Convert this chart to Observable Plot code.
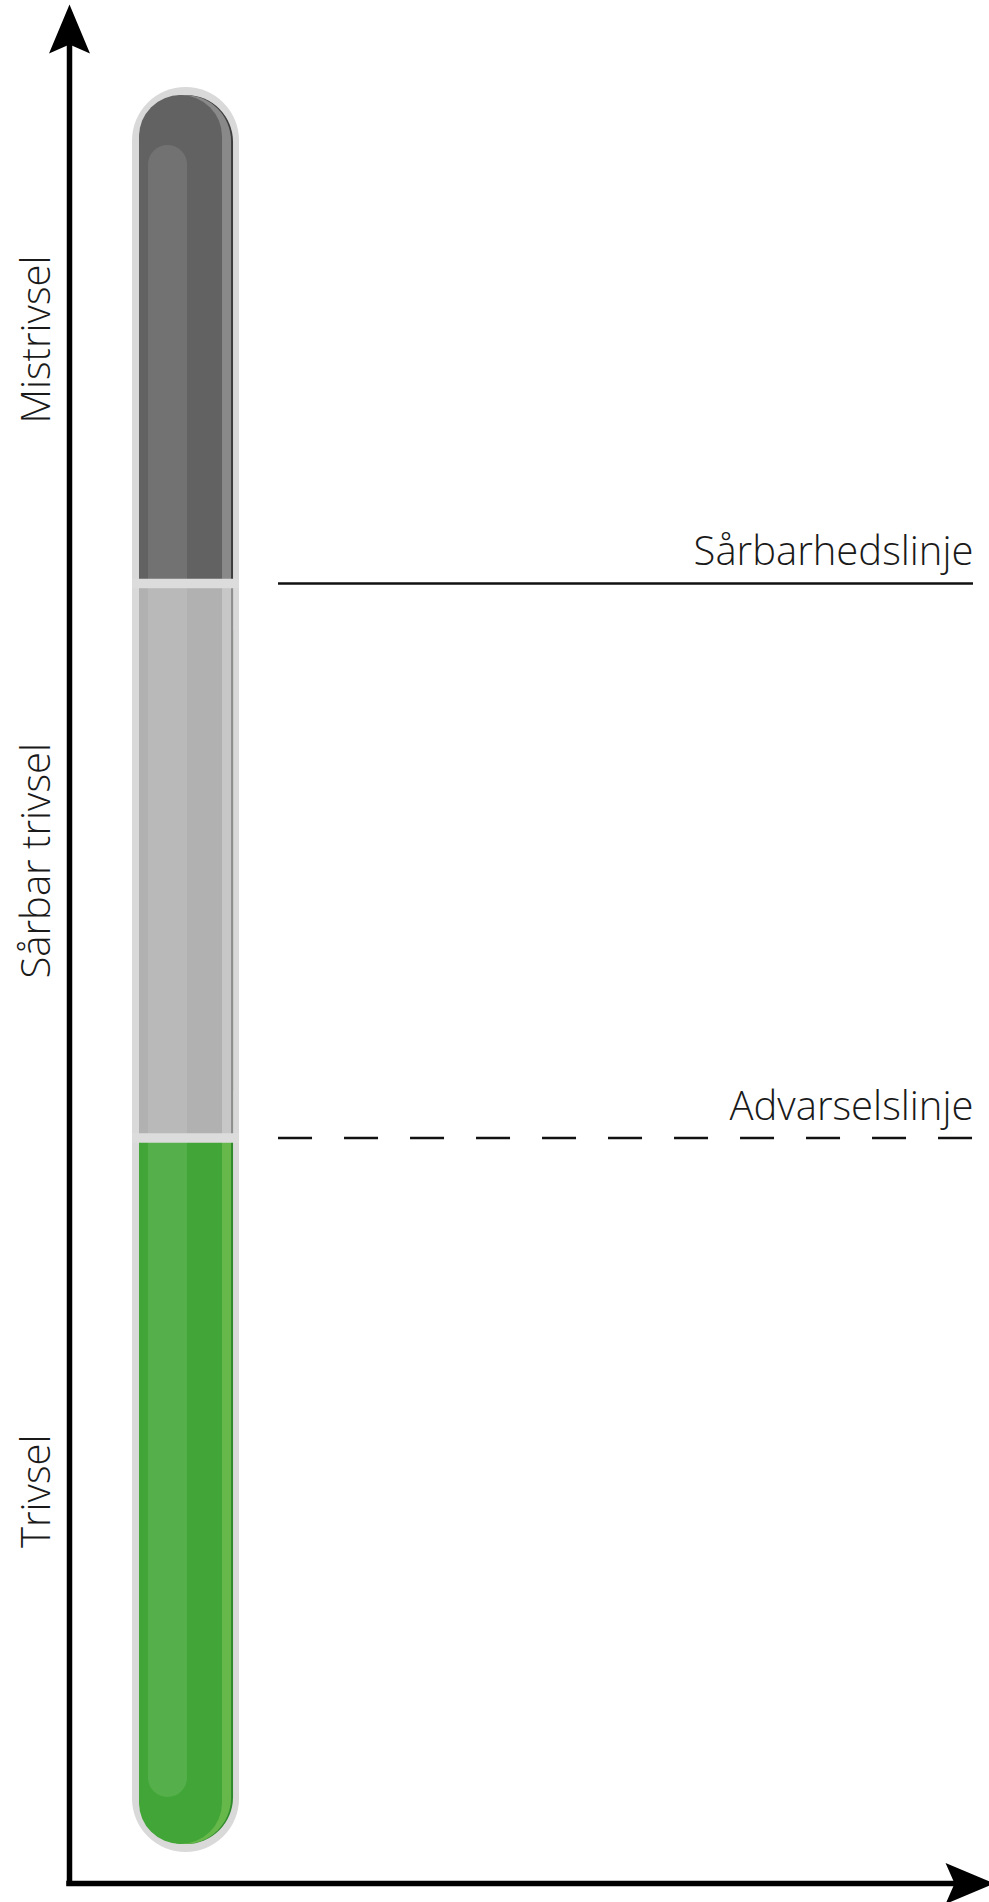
<!DOCTYPE html>
<html>
<head>
<meta charset="utf-8">
<script src="https://cdn.jsdelivr.net/npm/d3@7"></script>
<script src="https://cdn.jsdelivr.net/npm/@observablehq/plot@0.6"></script>
<style>
  html, body { margin: 0; padding: 0; background: #ffffff; }
  #chart svg { display: block; }
</style>
</head>
<body>
<div id="chart"></div>
<script>
// ---- Data ----
const zones = ["Trivsel", "Sårbar trivsel", "Mistrivsel"];   // bottom → top
const zoneFrom = [0, 40.4, 72.1];
const zoneTo = [40.4, 72.1, 100];

const lineNames = ["Advarselslinje", "Sårbarhedslinje"];
const lineValues = [40.4, 72.1];
const lineKinds = ["dashed", "solid"];

// ---- Layout (scale units) ----
const tube = {x1: 7.61, x2: 17.83};
const lineExtent = {x1: 22.72, x2: 98.26};
const labelX = -2.07;
const axisExt = {yFrom: -2.23, yTo: 105.2, xTo: 100.55};

// ---- Styles ----
const palette = {
  top:    {edge: "#3c3c3c", rim: "#898989", main: "#626262", hi: "#727272"},
  mid:    {edge: "#8e8e8e", rim: "#c7c7c7", main: "#b1b1b1", hi: "#b9b9b9"},
  bottom: {edge: "#2e8a2c", rim: "#67b84b", main: "#42a537", hi: "#55b04b"}
};
const font = {fontFamily: "Open Sans", fontWeight: 300, fill: "#1a1a1a"};

const zoneData = zones.map((name, i) => ({name, from: zoneFrom[i], to: zoneTo[i]}));
const lineData = lineNames.map((name, i) => ({name, value: lineValues[i], kind: lineKinds[i]}));
const [bottomZ, midZ, topZ] = zoneData;

// arrowhead symbols (tip at the anchor point)
const arrowUp = {draw(ctx) { ctx.moveTo(0, 0); ctx.lineTo(20.5, 49); ctx.lineTo(0, 40); ctx.lineTo(-20.5, 49); ctx.closePath(); }};
const arrowRight = {draw(ctx) { ctx.moveTo(0, 0); ctx.lineTo(-49, -20.5); ctx.lineTo(-40, 0); ctx.lineTo(-49, 20.5); ctx.closePath(); }};

// layered capsule for one section
function section(y1, y2, pal, opts = {}) {
  const base = {x1: tube.x1, x2: tube.x2, y1, y2};
  const r = opts.round ? 1 : 0;
  return [
    Plot.rect([0], {...base, fill: pal.edge, rx: r * 47}),
    Plot.rect([0], {...base, fill: pal.rim, insetRight: 2, rx: r * 46}),
    Plot.rect([0], {...base, fill: pal.main, insetRight: 11, rx: r * 41.5}),
    Plot.rect([0], {...base, fill: pal.hi, insetLeft: 9, insetRight: 46, rx: r * 19.5,
      insetTop: opts.hiTop || 0, insetBottom: opts.hiBottom || 0})
  ];
}

const chart = Plot.plot({
  width: 989,
  height: 1902,
  marginLeft: 69,
  marginRight: 0,
  marginTop: 95,
  marginBottom: 58,
  x: {domain: [0, 100], axis: null},
  y: {domain: [0, 100], axis: null},
  style: {background: "#ffffff", overflow: "visible"},
  marks: [
    // outer light-grey casing
    Plot.rect([0], {x1: tube.x1, x2: tube.x2, y1: bottomZ.from, y2: topZ.to,
      insetTop: -8, insetBottom: -8, insetLeft: -7, insetRight: -6, rx: 53.5, fill: "#d9d9d9"}),
    // top section (extends down under the middle one)
    ...section(midZ.from, topZ.to, palette.top, {round: true, hiTop: 50}),
    // bottom section (extends up under the middle one)
    ...section(bottomZ.from, midZ.to, palette.bottom, {round: true, hiBottom: 47}),
    // middle section (flat)
    ...section(midZ.from, midZ.to, palette.mid),
    // separators
    Plot.ruleY(lineData, {y: "value", x1: tube.x1, x2: tube.x2, insetLeft: -7, insetRight: -6,
      stroke: "#dcdcdc", strokeWidth: 9.5}),
    // threshold lines
    Plot.ruleY(lineData.filter(d => d.kind === "solid"), {y: "value", x1: lineExtent.x1, x2: lineExtent.x2,
      stroke: "#111111", strokeWidth: 2.5}),
    Plot.ruleY(lineData.filter(d => d.kind === "dashed"), {y: "value", x1: lineExtent.x1, x2: lineExtent.x2,
      stroke: "#111111", strokeWidth: 2.5, strokeDasharray: "34 32"}),
    Plot.text(lineData, {x: lineExtent.x2, y: "value", text: "name", textAnchor: "end",
      lineAnchor: "bottom", dy: -18, fontSize: 40, ...font}),
    // zone labels
    Plot.text(zoneData, {x: labelX, y: d => (d.from + d.to) / 2, text: "name", rotate: -90,
      textAnchor: "middle", lineAnchor: "bottom", fontSize: 40, ...font}),
    // axes
    Plot.ruleX([0], {x: d => d, y1: axisExt.yTo, y2: axisExt.yFrom, insetTop: 30,
      stroke: "#000", strokeWidth: 5.5, strokeLinecap: "square"}),
    Plot.ruleY([axisExt.yFrom], {y: d => d, x1: 0, x2: axisExt.xTo, insetRight: 30,
      stroke: "#000", strokeWidth: 5.5, strokeLinecap: "square"}),
    Plot.dot([0], {x: 0, y: axisExt.yTo, symbol: arrowUp, fill: "#000", stroke: "none", r: 10}),
    Plot.dot([0], {x: axisExt.xTo, y: axisExt.yFrom, symbol: arrowRight, fill: "#000", stroke: "none", r: 10})
  ]
});
document.getElementById("chart").appendChild(chart);
</script>
</body>
</html>
